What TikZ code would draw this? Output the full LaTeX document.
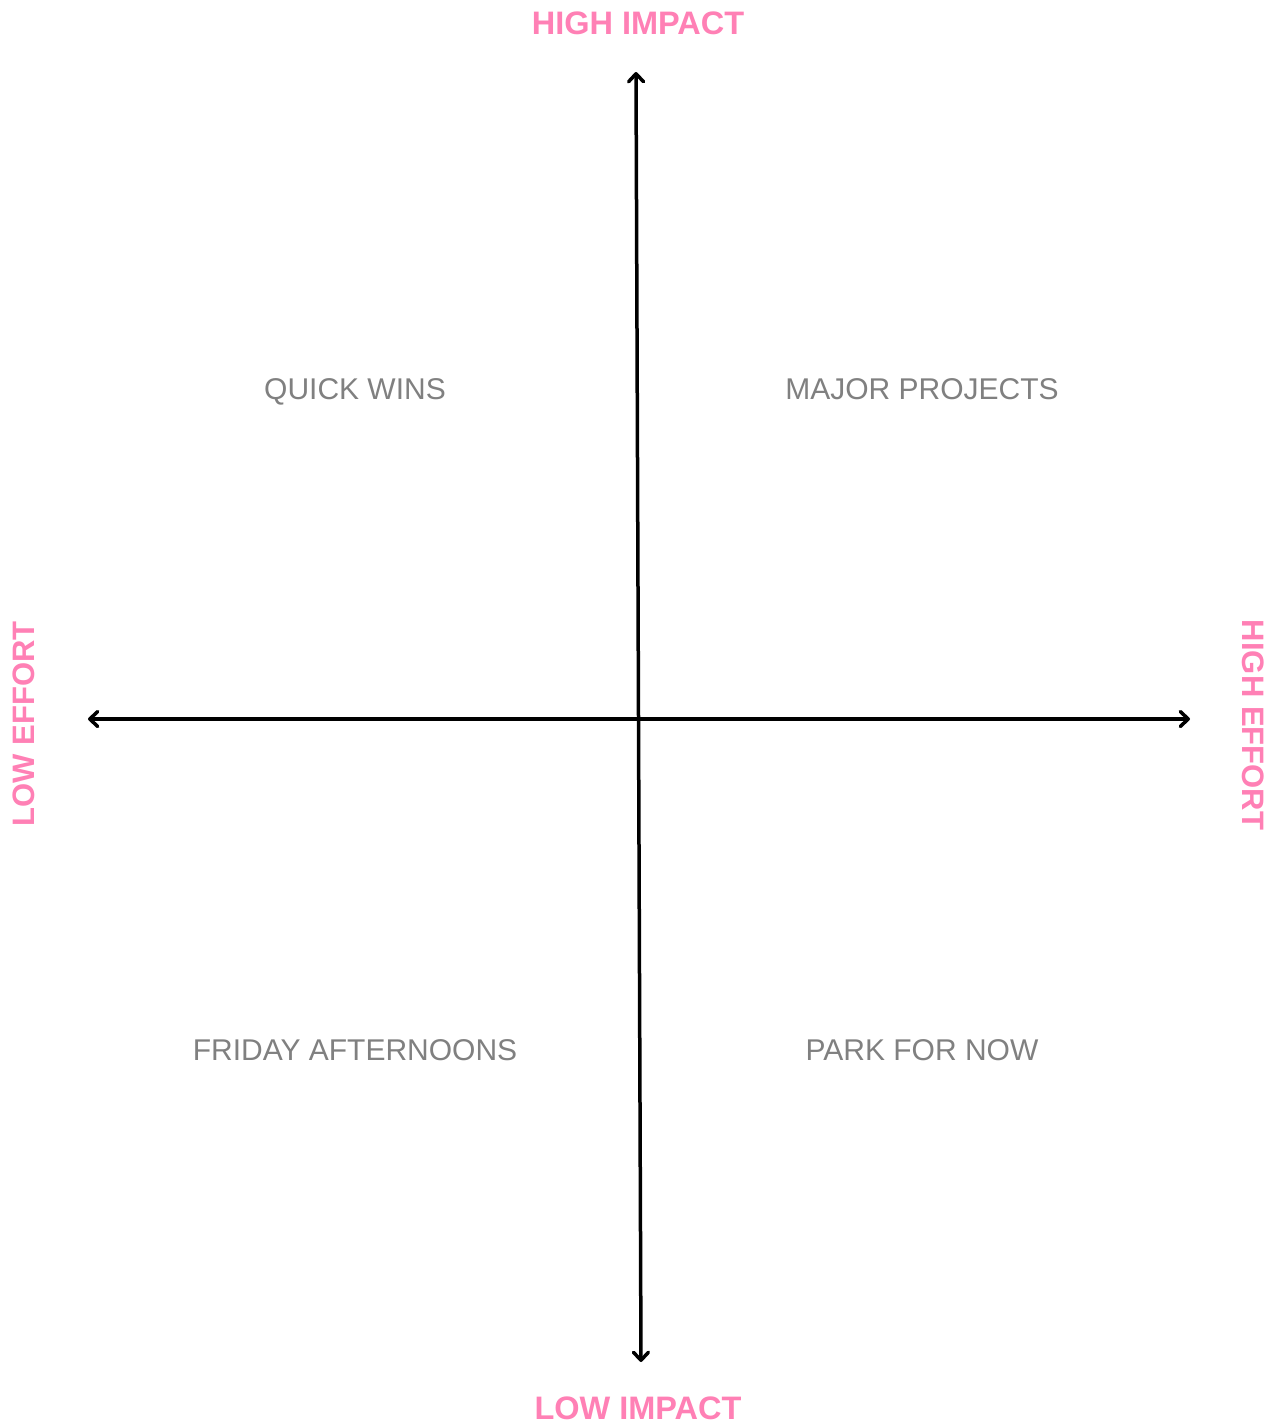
\documentclass[tikz,border=0pt]{standalone}
\usepackage{fontspec}
\setmainfont{Liberation Sans}
\usetikzlibrary{arrows.meta}
\definecolor{axispink}{HTML}{FF80B5}
\definecolor{quadgray}{HTML}{808080}
\tikzset{barbtip/.tip={Straight Barb[length=8pt,width=15pt,line width=3.5pt,round]}}
\begin{document}
\begin{tikzpicture}[x=1pt,y=-1pt,
  axislabel/.style={text=axispink,font=\fontsize{32.5}{36}\selectfont\bfseries,inner sep=0pt,text depth=0pt},
  sidelabel/.style={axislabel,font=\fontsize{31}{34}\selectfont\bfseries},
  quadlabel/.style={text=quadgray,font=\fontsize{30}{34}\selectfont,inner sep=0pt,text depth=0pt},
  axisline/.style={line width=3.5pt,line cap=round,barbtip-barbtip}]
\useasboundingbox (0,0) rectangle (1279,1425);
\fill[white] (0,0) rectangle (1279,1425);
% axis ends
\coordinate (top) at (636,72);
\coordinate (bottom) at (641,1362);
\coordinate (left) at (88,719);
\coordinate (right) at (1190,719);
\draw[axisline] (bottom) -- (top);
\draw[axisline] (left) -- (right);
% axis labels
\node[axislabel] (hi) at (638,23) {HIGH IMPACT};
\node[axislabel] (li) at (638,1408) {LOW IMPACT};
\node[sidelabel,rotate=90] (le) at (24,724) {LOW EFFORT};
\node[sidelabel,rotate=-90] (he) at (1253,725) {HIGH EFFORT};
% quadrant labels
\node[quadlabel] (qw) at (355,389) {QUICK WINS};
\node[quadlabel] (mp) at (922,389) {MAJOR PROJECTS};
\node[quadlabel] (fa) at (355,1050) {FRIDAY AFTERNOONS};
\node[quadlabel] (pn) at (922,1050) {PARK FOR NOW};
\end{tikzpicture}
\end{document}
